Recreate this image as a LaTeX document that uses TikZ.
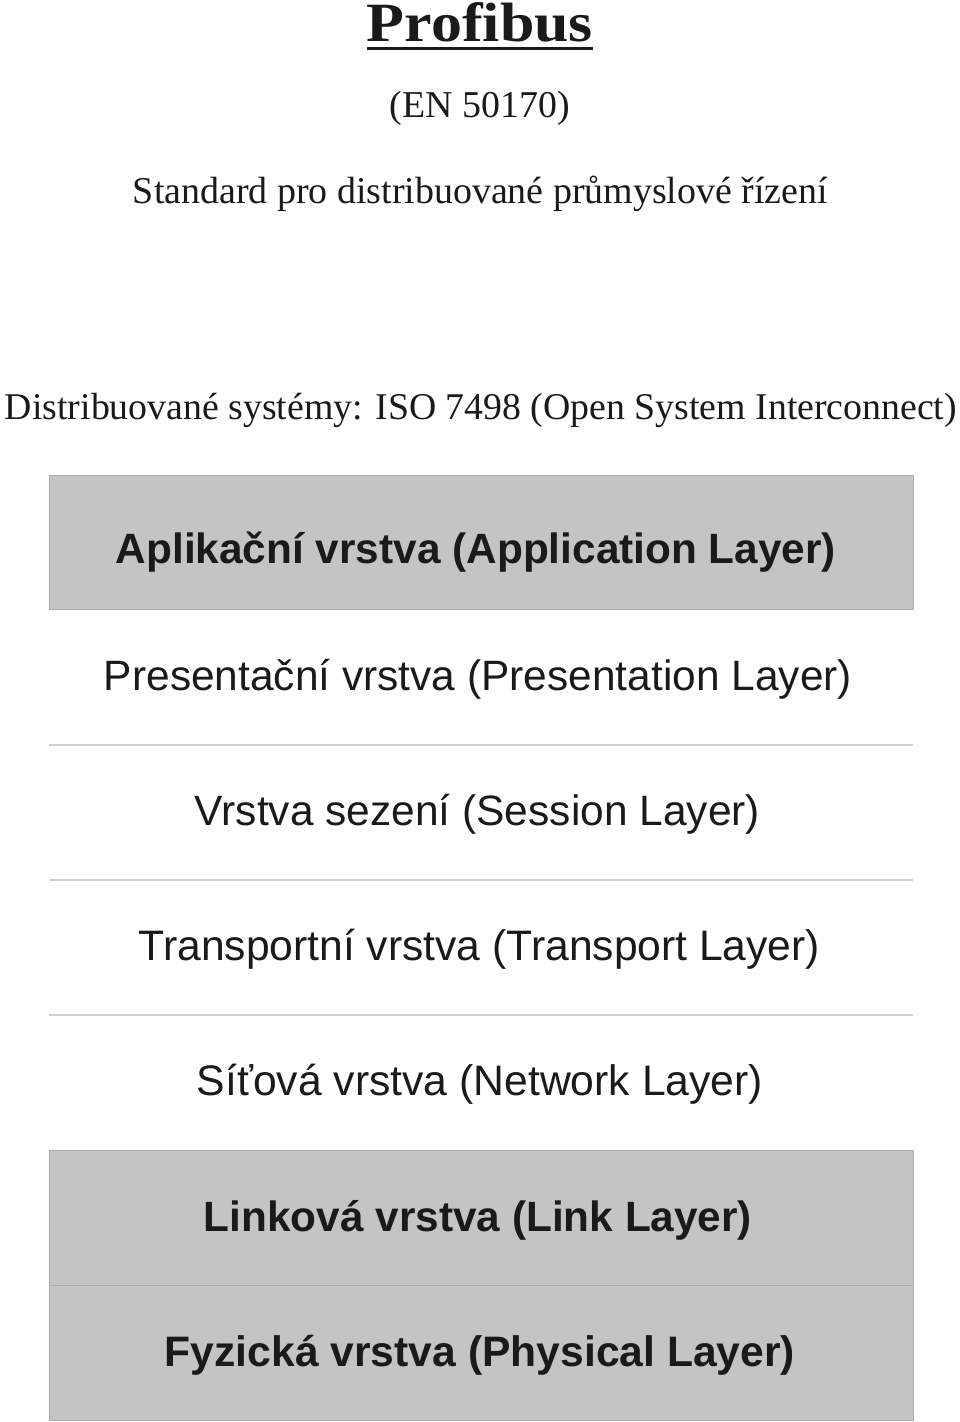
\documentclass[tikz,border=0pt]{standalone}
\usepackage{fontspec}
\setmainfont{Liberation Serif}
\newfontfamily\arialf{Liberation Sans}
\usepackage{graphicx}
\definecolor{layergray}{HTML}{C4C4C4}
\definecolor{edgegray}{HTML}{ADADAD}
\definecolor{sepgray}{HTML}{CFCFCF}
\definecolor{ink}{HTML}{1A1A1A}
\newcommand\fitw[2]{\resizebox{#1pt}{!}{#2}}
\begin{document}
\begin{tikzpicture}[x=1pt,y=-1pt,
  head/.style={inner sep=0pt,outer sep=0pt,anchor=base,text=ink},
  layertxt/.style={inner sep=0pt,outer sep=0pt,anchor=base,text=ink,font=\arialf},
  grayrow/.style={fill=layergray,draw=edgegray,line width=1pt},
  sepline/.style={draw=sepgray,line width=1.3pt}]
\useasboundingbox (0,0) rectangle (960,1422);
\fill[white] (0,0) rectangle (960,1422);
% title block
\node[head] (title) at (480,41) {\resizebox{226pt}{39pt}{\bfseries Profibus}};
\draw[line width=3pt,ink] ([yshift=-7pt]title.base west) -- ([yshift=-7pt]title.base east);
\node[head] (en) at (480,117) {\fitw{180}{(EN 50170)}};
\node[head] (std) at (480.5,203) {\fitw{695}{Standard pro distribuované průmyslové řízení}};
\node[head] (iso) at (481,419) {\fitw{952}{Distribuované systémy: ISO 7498 (Open System Interconnect)}};
% layer rows
\path[grayrow] (49,475) rectangle (913,609);
\path[grayrow] (49,1150) rectangle (913,1285);
\path[grayrow] (49,1285) rectangle (913,1420);
\draw[sepline] (49,745) -- (913,745);
\draw[sepline] (49,880) -- (913,880);
\draw[sepline] (49,1015) -- (913,1015);
% layer labels
\node[layertxt] (app) at (476,563) {\fitw{720}{\bfseries Aplikační vrstva (Application Layer)}};
\node[layertxt] (pres) at (478,690) {\fitw{748}{Presentační vrstva (Presentation Layer)}};
\node[layertxt] (sess) at (477.5,825) {\fitw{565}{Vrstva sezení (Session Layer)}};
\node[layertxt] (trans) at (479.5,960) {\fitw{681}{Transportní vrstva (Transport Layer)}};
\node[layertxt] (net) at (480,1095) {\fitw{566}{Síťová vrstva (Network Layer)}};
\node[layertxt] (link) at (478,1231) {\fitw{548}{\bfseries Linková vrstva (Link Layer)}};
\node[layertxt] (phys) at (480,1366) {\fitw{630}{\bfseries Fyzická vrstva (Physical Layer)}};
\end{tikzpicture}
\end{document}
